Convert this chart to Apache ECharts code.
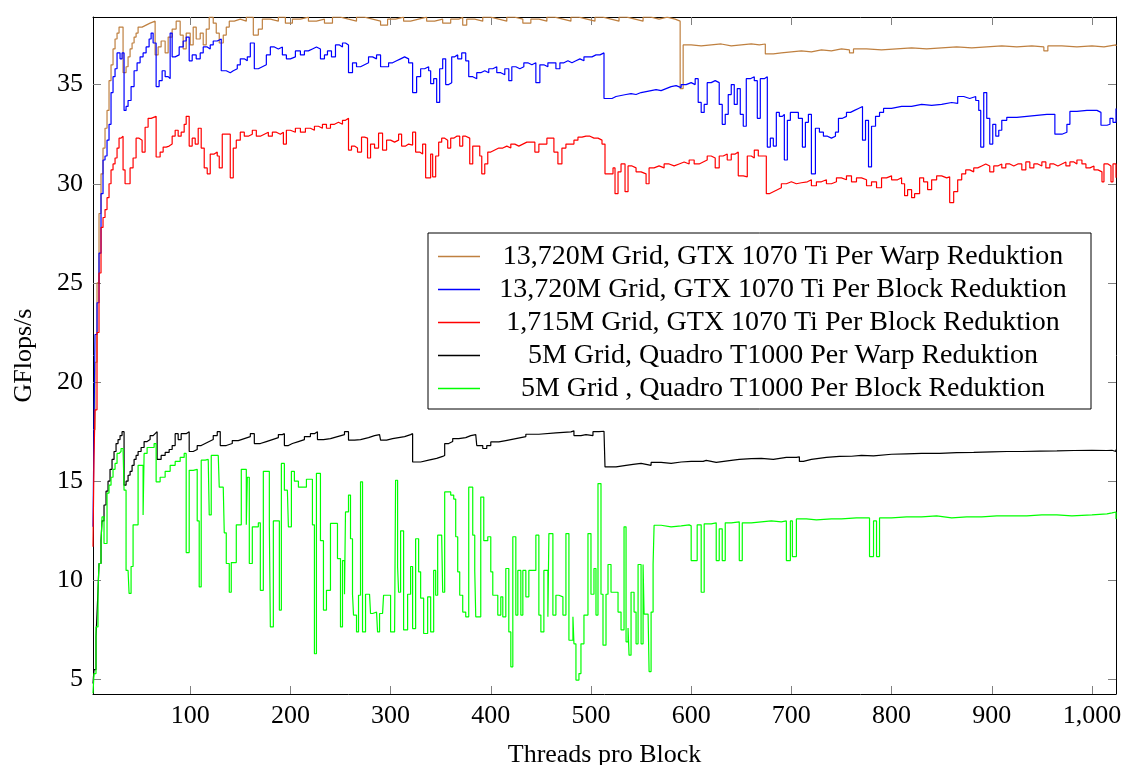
<!DOCTYPE html>
<html>
<head>
<meta charset="utf-8">
<script src="https://cdn.jsdelivr.net/npm/echarts@6/dist/echarts.min.js"></script>
<style>html,body{margin:0;padding:0;background:#fff}#c{width:1123px;height:765px}</style>
</head>
<body>
<div id="c"></div>
<script>
const seriesNames = [
  '13,720M Grid, GTX 1070 Ti Per Warp Reduktion',
  '13,720M Grid, GTX 1070 Ti Per Block Reduktion',
  '1,715M Grid, GTX 1070 Ti Per Block Reduktion',
  '5M Grid, Quadro T1000 Per Warp Reduktion',
  '5M Grid , Quadro T1000 Per Block Reduktion'
];
const xTicks = [100,200,300,400,500,600,700,800,900,1000];
const yTicks = [5,10,15,20,25,30,35];

// [threads, GFlops/s]
const gtxWarp = [[3,17.6],[5,21],[7,25],[9,28.5],[11,30.5],[13,31.8],[15,32.8],[17,33.7],[19,35.2],[21,36.0],[23,36.8],[25,37.3],[27,37.6],[29,37.9],[33,35.6],[36,35.9],[38,36.4],[40,36.8],[42,37.1],[44,37.4],[46,37.6],[48,37.9],[52,38.0],[56,38.1],[60,38.2],[65,36.5],[68,36.9],[71,37.2],[75,36.6],[78,37.4],[82,37.8],[86,38.2],[90,37.5],[93,36.8],[96,37.6],[100,37.0],[103,37.9],[106,37.3],[110,37.6],[113,37.0],[116,37.8],[119,38.4],[123,38.1],[126,37.6],[129,37.1],[133,37.5],[136,37.9],[139,38.2],[144,38.3],[150,38.2],[156,38.4],[163,37.5],[168,37.8],[172,38.3],[180,38.2],[188,38.4],[195,38.1],[202,38.3],[210,38.4],[218,38.2],[226,38.3],[234,38.1],[242,38.4],[250,38.3],[258,38.2],[266,38.4],[274,38.3],[282,38.2],[290,38.0],[297,38.3],[305,38.4],[313,38.2],[320,38.3],[328,38.4],[336,38.2],[344,38.3],[352,38.1],[360,38.3],[368,38.4],[372,38.0],[376,38.3],[384,38.2],[392,38.4],[400,38.3],[408,38.2],[416,38.4],[424,38.3],[432,38.1],[440,38.3],[448,38.2],[456,38.4],[464,38.3],[472,38.2],[480,38.4],[488,38.3],[496,38.2],[504,38.4],[512,38.3],[520,38.2],[528,38.4],[536,38.3],[544,38.2],[552,38.4],[560,38.3],[568,38.4],[576,38.3],[584,38.2],[589,34.8],[592,37.0],[600,36.95],[610,37.0],[620,37.05],[630,36.95],[640,37.0],[650,37.05],[660,37.0],[668,37.05],[674,36.55],[682,36.6],[690,36.65],[700,36.7],[710,36.65],[720,36.75],[730,36.7],[740,36.8],[750,36.75],[758,36.6],[762,36.8],[775,36.75],[790,36.8],[805,36.85],[820,36.8],[835,36.85],[850,36.9],[865,36.85],[880,36.9],[895,36.95],[910,36.9],[925,36.95],[940,36.9],[952,36.7],[956,36.95],[970,36.9],[985,36.95],[1000,36.9],[1012,37.0],[1024,36.95]];

const gtxBlock = [[3,12.7],[4,17.7],[5,22.4],[7,24],[9,26.5],[11,29.5],[13,31.2],[15,31.4],[17,32.2],[19,33.0],[21,34.6],[23,35.4],[25,35.8],[27,36.6],[30,36.3],[32,36.6],[34,33.7],[36,33.9],[38,34.2],[41,34.9],[44,35.7],[47,36.1],[50,36.4],[53,36.6],[56,36.9],[59,37.3],[61,37.6],[63,37.1],[66,34.9],[69,35.2],[72,35.7],[75,35.4],[78,35.3],[80,37.6],[82,36.4],[85,36.5],[89,36.9],[93,37.2],[96,37.4],[99,36.2],[102,36.5],[106,36.3],[110,36.6],[113,36.9],[117,36.8],[120,37.0],[123,37.2],[127,37.3],[131,35.7],[136,35.6],[140,35.7],[143,35.8],[147,36.0],[150,36.3],[154,36.2],[157,36.4],[160,37.1],[164,35.8],[168,35.9],[172,36.0],[176,36.5],[180,36.9],[184,36.8],[188,36.9],[192,36.5],[196,36.3],[200,36.4],[205,36.7],[210,36.5],[214,36.7],[218,36.8],[222,36.9],[226,36.8],[230,36.3],[234,36.5],[237,36.7],[241,36.4],[245,37.0],[249,36.9],[252,37.1],[255,37.0],[258,35.6],[262,36.1],[266,35.9],[270,36.0],[274,36.1],[278,36.4],[282,36.3],[286,36.5],[290,35.9],[294,35.9],[298,36.1],[302,36.2],[306,36.3],[310,36.4],[314,36.3],[318,36.1],[322,34.6],[326,35.4],[330,35.8],[334,35.9],[338,35.7],[340,35.05],[343,35.3],[346,34.1],[349,35.8],[352,36.3],[355,35.0],[358,35.1],[361,36.4],[364,36.5],[367,36.3],[371,36.6],[375,36.2],[378,35.4],[382,35.3],[386,35.6],[390,35.7],[394,35.6],[398,35.8],[402,35.9],[406,35.6],[410,35.5],[414,35.8],[418,35.2],[421,35.9],[425,35.8],[429,35.9],[433,36.1],[437,36.0],[441,36.1],[445,35.1],[449,36.0],[453,35.9],[457,36.1],[461,36.1],[465,35.8],[469,36.1],[473,36.2],[477,36.1],[481,36.2],[485,36.3],[489,36.2],[493,36.4],[497,36.4],[501,36.5],[505,36.5],[509,36.6],[513,34.3],[517,34.3],[521,34.4],[525,34.45],[530,34.5],[535,34.55],[540,34.5],[545,34.6],[550,34.65],[555,34.7],[560,34.75],[565,34.7],[570,34.8],[575,34.9],[580,34.95],[585,34.85],[590,35.0],[595,35.1],[600,35.0],[604,35.3],[607,34.1],[610,33.6],[613,34.0],[616,35.1],[620,35.2],[624,35.1],[628,34.0],[631,33.0],[634,33.5],[637,34.5],[640,35.0],[643,34.0],[646,34.8],[649,33.5],[652,32.9],[655,35.3],[659,35.4],[663,35.2],[666,33.3],[669,35.3],[673,35.4],[676,31.85],[679,32.3],[682,31.9],[685,33.6],[688,33.4],[691,33.5],[693,31.2],[696,33.2],[699,33.6],[703,33.6],[707,33.3],[711,31.85],[714,33.1],[717,33.5],[720,30.5],[724,32.8],[728,32.6],[732,32.4],[736,32.3],[740,32.4],[744,32.6],[747,33.3],[751,33.4],[755,33.6],[759,33.7],[763,33.8],[767,33.9],[771,32.2],[774,33.2],[777,30.85],[780,32.9],[784,33.4],[788,33.6],[792,33.8],[800,33.9],[810,33.9],[820,34.0],[830,33.95],[840,34.0],[850,34.1],[860,34.05],[866,34.4],[872,34.3],[878,34.4],[884,34.2],[887,33.7],[889,31.85],[892,34.6],[895,33.3],[898,32.0],[901,33.0],[904,32.4],[907,32.7],[910,33.2],[915,33.35],[925,33.4],[935,33.45],[945,33.5],[955,33.5],[963,32.5],[970,32.6],[975,33.0],[978,33.65],[985,33.7],[995,33.7],[1005,33.6],[1009,32.95],[1015,33.0],[1018,33.3],[1021,33.1],[1024,33.8]];

const gtxBlockSmall = [[3,11.7],[4,16.2],[5,18.6],[7,22.5],[9,25.5],[11,27.8],[13,28.3],[15,28.7],[17,29.3],[19,30.0],[21,30.7],[23,31.0],[25,31.3],[27,31.8],[29,32.3],[31,32.4],[33,30.7],[35,30.0],[38,30.0],[40,30.8],[43,31.3],[46,32.3],[49,32.2],[52,31.6],[55,32.85],[58,33.3],[61,33.4],[66,31.35],[70,31.6],[73,31.85],[76,31.9],[79,32.0],[82,32.4],[85,32.7],[88,32.4],[91,32.6],[94,33.0],[96,33.4],[99,31.9],[102,32.3],[105,32.0],[108,32.8],[111,31.8],[114,30.8],[117,30.5],[120,31.5],[124,31.6],[127,31.4],[129,30.8],[132,32.5],[136,32.5],[140,30.3],[143,31.8],[146,32.2],[150,32.6],[154,32.4],[158,32.5],[162,32.7],[166,32.4],[170,32.5],[174,32.6],[178,32.4],[182,32.6],[186,32.5],[190,32.6],[193,32.0],[196,32.7],[200,32.6],[205,32.8],[210,32.6],[215,32.8],[220,32.7],[224,32.9],[228,32.8],[232,33.0],[236,32.8],[240,33.0],[244,33.1],[248,33.0],[252,33.2],[255,33.3],[258,31.7],[261,31.9],[264,31.8],[267,31.6],[271,32.35],[274,32.3],[277,31.3],[280,32.0],[284,31.8],[288,32.55],[292,31.7],[296,32.2],[300,32.1],[304,32.2],[308,32.5],[311,31.9],[315,32.0],[318,31.95],[322,32.6],[325,31.6],[329,31.5],[332,32.0],[335,30.3],[338,30.3],[340,31.5],[342,30.35],[345,31.4],[348,32.1],[351,32.3],[354,32.2],[357,31.8],[360,32.3],[363,32.4],[366,32.4],[369,31.9],[372,32.4],[375,32.3],[379,31.0],[382,31.9],[386,31.9],[389,31.4],[391,30.5],[394,31.0],[397,31.6],[400,31.7],[404,31.8],[408,31.8],[412,31.9],[416,31.8],[420,32.0],[424,31.9],[428,32.0],[432,32.1],[436,32.1],[440,32.1],[444,31.6],[448,32.0],[452,32.0],[456,32.3],[460,32.3],[463,31.6],[467,31.0],[471,31.8],[475,32.0],[479,32.0],[483,32.2],[487,32.35],[491,32.4],[495,32.4],[499,32.3],[503,32.3],[507,32.2],[511,32.0],[514,30.5],[518,30.5],[522,30.8],[524,29.5],[527,30.6],[530,31.0],[534,29.6],[537,30.9],[541,30.8],[545,30.6],[550,30.5],[555,30.0],[558,30.8],[563,30.9],[568,30.8],[573,31.0],[578,30.9],[583,31.0],[588,31.1],[593,31.0],[598,31.2],[603,31.0],[608,31.1],[612,31.2],[616,31.4],[620,31.3],[624,30.8],[628,31.4],[632,31.5],[636,31.2],[640,31.5],[644,31.6],[647,30.4],[652,30.35],[656,31.4],[660,31.3],[663,31.7],[667,31.4],[671,31.4],[675,29.5],[678,29.6],[682,29.7],[686,29.8],[690,30.0],[695,30.1],[700,30.0],[705,30.05],[710,30.1],[716,30.2],[720,29.9],[725,30.1],[730,30.2],[735,30.0],[740,30.1],[745,30.3],[750,30.2],[755,30.4],[760,30.1],[765,30.3],[770,30.2],[775,29.9],[780,30.1],[785,29.8],[790,30.3],[795,30.4],[800,30.2],[806,30.3],[810,30.0],[813,29.4],[816,29.7],[820,29.3],[823,29.5],[828,30.3],[832,30.1],[836,29.7],[840,30.2],[845,30.4],[850,30.3],[855,30.35],[858,29.05],[862,29.6],[866,30.2],[870,30.5],[874,30.7],[878,30.6],[882,30.8],[886,30.9],[890,31.0],[894,30.9],[898,30.6],[902,30.9],[906,31.0],[910,30.8],[914,31.0],[918,30.9],[922,31.0],[926,31.0],[930,30.7],[934,31.1],[938,30.8],[942,31.0],[946,30.9],[950,31.1],[954,30.8],[958,31.0],[962,30.9],[966,31.0],[970,31.1],[974,30.9],[978,31.1],[982,31.0],[985,31.2],[990,31.0],[994,30.8],[998,30.9],[1002,30.7],[1006,30.6],[1010,30.1],[1012,31.0],[1016,30.9],[1019,30.1],[1021,31.0],[1024,30.3]];

const quadroWarp = [[3,4.8],[4,5.5],[6,7.15],[7,8.3],[8,9.5],[9,10.85],[11,12.0],[12,13.0],[14,13.8],[16,14.5],[18,15.0],[20,15.6],[22,16.1],[24,16.5],[26,16.9],[28,17.1],[30,17.3],[32,17.5],[34,14.8],[36,15.0],[38,15.3],[40,15.5],[42,15.8],[44,16.1],[46,16.3],[48,16.5],[51,16.7],[54,17.0],[57,17.1],[60,17.3],[63,17.4],[65,17.5],[67,16.1],[71,16.3],[75,16.45],[79,16.6],[82,16.8],[85,17.4],[88,17.1],[91,17.4],[94,17.4],[96,17.5],[99,16.5],[103,16.6],[107,16.8],[111,16.9],[115,17.0],[119,17.1],[123,17.3],[127,17.5],[130,16.8],[136,16.9],[142,17.05],[148,17.15],[154,17.25],[160,17.4],[164,16.9],[170,17.0],[176,17.1],[182,17.2],[188,17.35],[192,17.4],[194,16.8],[198,16.9],[202,17.0],[208,17.1],[214,17.25],[220,17.4],[224,17.5],[227,17.1],[233,17.15],[240,17.25],[247,17.35],[254,17.5],[258,17.07],[264,17.1],[270,17.2],[278,17.3],[284,17.35],[289,17.4],[290,17.07],[296,17.15],[302,17.2],[308,17.25],[314,17.35],[320,17.4],[322,15.97],[330,16.06],[338,16.15],[346,16.25],[352,16.3],[354,16.9],[358,17.0],[362,17.15],[368,17.2],[375,17.3],[380,17.35],[385,17.37],[386,16.8],[392,16.65],[396,16.8],[400,16.98],[408,17.05],[415,17.15],[425,17.25],[435,17.37],[448,17.44],[465,17.49],[480,17.54],[483,17.3],[490,17.35],[495,17.3],[502,17.5],[508,17.52],[513,17.55],[514,15.72],[525,15.8],[535,15.85],[542,15.9],[550,15.85],[555,15.8],[560,15.95],[570,15.9],[580,15.97],[590,16.0],[600,16.0],[612,16.05],[615,15.95],[625,16.05],[640,16.1],[648,16.14],[660,16.15],[670,16.1],[682,16.2],[695,16.2],[705,16.23],[708,16.0],[712,16.1],[720,16.2],[735,16.25],[748,16.26],[760,16.3],[770,16.28],[782,16.36],[800,16.38],[815,16.4],[830,16.4],[848,16.44],[865,16.45],[882,16.48],[900,16.5],[915,16.5],[930,16.52],[948,16.53],[965,16.55],[982,16.56],[1000,16.55],[1015,16.56],[1020,16.5],[1024,16.6]];

const quadroBlock = [[3,4.3],[4,5.3],[6,7.65],[8,9.5],[9,10.85],[11,11.86],[12,13.2],[14,11.86],[17,14.4],[19,14.8],[21,15.2],[23,15.6],[25,15.9],[27,16.4],[29,16.5],[31,16.65],[33,16.7],[34,14.55],[36,10.5],[38,10.5],[39,9.34],[41,10.7],[43,12.8],[46,12.8],[48,15.8],[51,15.8],[53,13.3],[54,16.4],[57,16.7],[61,16.7],[64,16.9],[66,14.97],[70,15.2],[75,15.5],[80,15.8],[85,16.0],[90,16.2],[94,16.4],[96,11.4],[99,15.55],[103,15.6],[107,13.0],[109,9.67],[111,16.06],[115,16.1],[118,16.1],[119,13.3],[121,16.3],[125,16.3],[128,16.3],[129,14.7],[133,14.7],[134,12.4],[136,10.85],[139,9.4],[141,10.9],[144,10.9],[146,12.8],[149,12.8],[151,15.6],[154,15.6],[156,12.8],[157,15.2],[159,10.85],[162,12.7],[165,12.7],[168,12.9],[170,9.5],[173,15.5],[177,15.5],[179,12.8],[180,7.65],[183,13.0],[187,13.0],[189,8.5],[191,15.9],[194,14.55],[197,14.55],[198,12.7],[201,15.5],[204,15.0],[208,14.7],[212,14.7],[216,15.1],[220,15.1],[222,12.8],[224,6.3],[226,15.4],[230,12.0],[233,8.5],[236,9.5],[240,12.87],[244,12.87],[247,11.1],[250,7.65],[252,11.0],[254,9.3],[255,13.45],[258,14.3],[260,12.1],[262,9.3],[263,8.25],[266,7.4],[268,9.25],[270,14.97],[272,7.4],[275,9.3],[279,9.3],[280,8.33],[282,8.4],[286,8.4],[287,7.4],[289,8.33],[292,8.33],[293,9.25],[297,9.25],[300,7.4],[304,7.4],[305,15.05],[307,10.68],[308,9.4],[310,12.5],[313,7.5],[317,9.3],[320,10.7],[322,7.57],[325,12.1],[328,10.43],[330,9.1],[333,7.32],[337,9.17],[340,7.4],[343,10.5],[345,9.25],[347,12.28],[351,12.28],[352,9.4],[354,14.46],[357,14.46],[360,14.3],[363,14.1],[365,12.2],[367,10.43],[369,9.25],[372,8.4],[375,8.16],[378,14.7],[382,12.28],[384,10.5],[385,8.16],[390,14.2],[393,12.0],[397,12.2],[400,10.43],[402,9.25],[405,9.25],[407,8.25],[410,9.17],[412,8.16],[415,10.6],[418,7.4],[420,5.64],[422,12.2],[425,8.25],[427,10.5],[430,8.25],[432,10.5],[435,9.17],[438,10.5],[442,10.5],[445,12.28],[448,8.25],[450,7.4],[453,10.5],[457,8.16],[458,12.36],[462,8.25],[465,9.25],[468,9.17],[472,8.25],[475,12.36],[478,6.98],[482,8.16],[483,6.8],[485,4.97],[488,5.3],[490,6.8],[493,8.25],[497,12.36],[500,9.3],[503,10.6],[505,8.25],[507,14.88],[510,9.3],[512,6.73],[515,9.3],[517,10.8],[520,9.4],[524,9.4],[527,8.4],[530,7.5],[533,12.7],[535,6.9],[537,7.6],[538,6.23],[540,9.4],[543,8.4],[545,6.8],[547,10.8],[550,6.8],[552,10.8],[553,8.3],[557,8.4],[558,5.4],[560,8.4],[562,10.8],[563,12.78],[570,12.7],[580,12.75],[590,12.8],[598,12.75],[600,11.0],[603,11.0],[606,12.8],[610,9.4],[613,12.85],[620,12.9],[625,11.0],[628,12.6],[631,11.0],[634,12.9],[640,12.95],[648,11.0],[651,12.9],[660,12.95],[670,13.0],[680,12.95],[690,13.0],[695,11.0],[699,13.0],[701,11.2],[705,13.1],[715,13.05],[725,13.1],[740,13.1],[750,13.15],[765,13.15],[778,11.2],[782,13.0],[785,11.2],[788,13.15],[800,13.2],[815,13.2],[830,13.25],[845,13.15],[860,13.2],[875,13.2],[890,13.25],[905,13.25],[920,13.25],[935,13.3],[950,13.3],[965,13.25],[980,13.3],[1000,13.35],[1015,13.4],[1020,13.45],[1024,13.1]];

const seriesData = [gtxWarp, gtxBlock, gtxBlockSmall, quadroWarp, quadroBlock];
const seriesColors = ['#bf8040', '#0000ff', '#ff0000', '#000000', '#00ff00'];

const FONT = '"Liberation Serif", "DejaVu Serif", serif';
const chart = echarts.init(document.getElementById('c'), null, {renderer: 'canvas'});

const tickStyle = {show: true, inside: true, length: 8, lineStyle: {color: '#808080', width: 1}};
const axisLineStyle = {show: true, lineStyle: {color: '#000', width: 1}};

chart.setOption({
  animation: false,
  backgroundColor: '#fff',
  grid: {left: 93, top: 17, width: 1023, height: 677, containLabel: false, outerBoundsMode: 'none'},
  legend: {
    orient: 'vertical',
    left: 428, top: 233,
    padding: [7, 10, 4, 10],
    itemGap: 0,
    itemWidth: 42, itemHeight: 1.5,
    icon: 'rect',
    backgroundColor: '#fff',
    borderColor: '#000', borderWidth: 1,
    selectedMode: false,
    data: seriesNames,
    formatter: n => '{t|' + n + '}',
    textStyle: {
      fontSize: 28, lineHeight: 33, height: 33,
      rich: {t: {width: 596, height: 33, align: 'center', fontSize: 28, lineHeight: 33, fontFamily: FONT, color: '#000'}}
    }
  },
  xAxis: [{
    type: 'value', min: 3, max: 1024,
    name: 'Threads pro Block', nameLocation: 'middle', nameGap: 48,
    nameTextStyle: {fontFamily: FONT, fontSize: 26, color: '#000'},
    axisLine: axisLineStyle,
    axisTick: Object.assign({customValues: xTicks}, tickStyle),
    axisLabel: {customValues: xTicks, fontFamily: FONT, fontSize: 26, color: '#000', margin: 9,
      formatter: v => v >= 1000 ? String(v).replace(/(\d)(\d{3})$/, '$1,$2') : String(v)},
    splitLine: {show: false}
  }, {
    type: 'value', min: 3, max: 1024, position: 'top',
    axisLine: axisLineStyle,
    axisTick: Object.assign({customValues: xTicks}, tickStyle),
    axisLabel: {show: false}, splitLine: {show: false}
  }],
  yAxis: [{
    type: 'value', min: 4.27, max: 38.41,
    name: 'GFlops/s', nameLocation: 'middle', nameGap: 56,
    nameTextStyle: {fontFamily: FONT, fontSize: 26, color: '#000'},
    axisLine: axisLineStyle,
    axisTick: Object.assign({customValues: yTicks}, tickStyle),
    axisLabel: {customValues: yTicks, fontFamily: FONT, fontSize: 26, color: '#000', margin: 10},
    splitLine: {show: false}
  }, {
    type: 'value', min: 4.27, max: 38.41, position: 'right',
    axisLine: axisLineStyle,
    axisTick: Object.assign({customValues: yTicks}, tickStyle),
    axisLabel: {show: false}, splitLine: {show: false}
  }],
  series: seriesData.map((d, i) => ({
    name: seriesNames[i],
    type: 'line',
    step: 'end',
    data: d,
    xAxisIndex: 0, yAxisIndex: 0,
    showSymbol: false, symbol: 'none',
    color: seriesColors[i],
    lineStyle: {color: seriesColors[i], width: 1.2},
    itemStyle: {color: seriesColors[i]},
    emphasis: {disabled: true},
    z: 2 + i
  }))
});
</script>
</body>
</html>
